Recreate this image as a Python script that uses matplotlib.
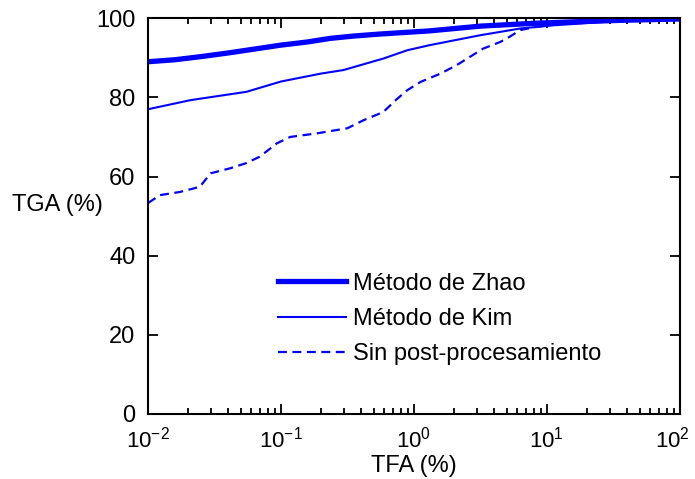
import matplotlib
matplotlib.use("Agg")
import matplotlib.pyplot as plt
import matplotlib.transforms as mtransforms
import numpy as np

plt.rcParams['font.family'] = ['Liberation Sans', 'DejaVu Sans']
plt.rcParams['mathtext.fontset'] = 'custom'
plt.rcParams['mathtext.rm'] = 'Liberation Sans'
plt.rcParams['mathtext.it'] = 'Liberation Sans'

# log10(TFA) and TGA values
zhao_logx = [-2.0, -1.8, -1.6, -1.38, -1.2, -1.0, -0.8, -0.63, -0.45, -0.256, 0.12, 0.5, 0.9, 1.3, 1.6, 2.0]
zhao_y = [89.0, 89.5, 90.3, 91.3, 92.2, 93.2, 94.0, 94.9, 95.5, 96.0, 96.8, 98.0, 98.7, 99.2, 99.5, 99.8]

kim_logx = [-2.0, -1.68, -1.26, -1.0, -0.7, -0.53, -0.23, -0.05, 0.12, 0.5, 0.8, 1.05, 1.5, 2.0]
kim_y = [77.0, 79.3, 81.4, 84.0, 86.0, 86.9, 89.8, 91.9, 93.2, 95.7, 97.4, 98.2, 99.2, 99.8]

sin_logx = [-2.0, -1.91, -1.76, -1.61, -1.53, -1.38, -1.26, -1.16, -1.03, -0.93, -0.73,
            -0.5, -0.38, -0.23, -0.13, -0.05, 0.05, 0.2, 0.32, 0.42, 0.52, 0.65, 0.72,
            0.8, 0.92, 1.02, 1.3, 2.0]
sin_y = [53.3, 55.3, 56.1, 57.4, 60.8, 62.1, 63.4, 65.0, 68.4, 70.0, 70.9,
         72.2, 74.2, 76.3, 79.5, 81.8, 83.9, 86.0, 88.1, 90.2, 92.3, 94.0, 95.3,
         97.0, 97.8, 98.3, 99.3, 99.8]

labels = ['Método de Zhao', 'Método de Kim', 'Sin post-procesamiento']

fig = plt.figure(figsize=(6.95, 4.79), dpi=100)
ax = fig.add_axes([0.213, 0.1357, 0.765, 0.8263])

ax.plot(10 ** np.array(zhao_logx), zhao_y, color='#0000ff', lw=3.8, label=labels[0])
ax.plot(10 ** np.array(kim_logx), kim_y, color='#0000ff', lw=1.5, label=labels[1])
ax.plot(10 ** np.array(sin_logx), sin_y, color='#0000ff', lw=1.6, ls=(0, (4, 2.5)), label=labels[2])

ax.set_xscale('log')
ax.set_xlim(1e-2, 1e2)
ax.set_ylim(0, 100)
ax.set_yticks(range(0, 101, 20))
ax.tick_params(which='both', direction='in', top=True, right=True, width=1.3)
ax.tick_params(axis='y', labelsize=17)
ax.tick_params(axis='x', labelsize=16)
ax.tick_params(which='major', length=7, pad=9)
ax.tick_params(which='minor', length=4)
for s in ax.spines.values():
    s.set_linewidth(1.5)

ax.set_xlabel('TFA (%)', fontsize=17, labelpad=2)
ax.set_ylabel('TGA (%)', fontsize=17, rotation=0, labelpad=0)
ax.yaxis.set_label_coords(-0.085, 0.5)
ax.yaxis.label.set_horizontalalignment('right')

ax.legend(loc='upper left', bbox_to_anchor=(0.245, 0.357), frameon=False, fontsize=17,
          borderaxespad=0, borderpad=0, handlelength=2.85, handletextpad=0.3,
          labelspacing=0.56)

# nudge the 10^2 label a little so it stays inside the image
fig.canvas.draw()
last = ax.xaxis.get_major_ticks()[-1]
for t in ax.xaxis.get_major_ticks():
    if abs(t.get_loc() - 100) < 1e-9:
        last = t
last.label1.set_transform(last.label1.get_transform() +
                          mtransforms.ScaledTranslation(-5 / 72, 0, fig.dpi_scale_trans))

fig.savefig('out.png', dpi=100)
